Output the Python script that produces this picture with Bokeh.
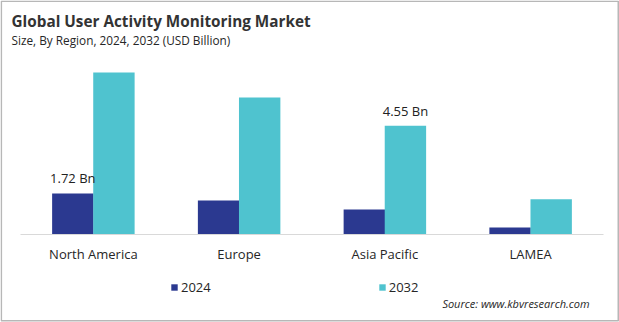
from bokeh.plotting import figure
from bokeh.models import (ColumnDataSource, Range1d, Legend, LegendItem,
                          Label, BoxAnnotation, FixedTicker)
from bokeh.transform import dodge
from bokeh.embed import file_html
from bokeh.resources import INLINE
from bokeh.core.properties import value

# ---------------- data ----------------
regions = ["North America", "Europe", "Asia Pacific", "LAMEA"]
years = ["2024", "2032"]
values_2024 = [1.72, 1.42, 1.05, 0.29]
values_2032 = [6.78, 5.73, 4.55, 1.48]
title_text = "Global User Activity Monitoring Market"
subtitle_text = "Size, By Region, 2024, 2032 (USD Billion)"
source_text = "Source: www.kbvresearch.com"
label_na_2024 = "1.72 Bn"
label_ap_2032 = "4.55 Bn"

# ---------------- layout ----------------
W, H = 619, 322
AX_L, AX_R, AX_Y = 20, 603, 234     # axis line extent / baseline in canvas px
px_per_unit = 23.9
cat_w = (AX_R - AX_L) / len(regions)

def dx(px):   # canvas px -> data x (category i centred on i)
    return (px - AX_L) / cat_w - 0.5

def dy(py):   # canvas px -> data y
    return (AX_Y - py) / px_per_unit

NAVY = "#2B3990"
CYAN = "#4FC3CF"
FONT = "Open Sans"

idx = list(range(len(regions)))
src = ColumnDataSource(dict(i=idx, region=regions, v2024=values_2024, v2032=values_2032))

p = figure(x_range=Range1d(dx(0), dx(W)), y_range=Range1d(dy(H), dy(0)),
           width=W, height=H, output_backend="svg", toolbar_location=None,
           y_axis_location=None, min_border=0)
p.outline_line_color = None
p.grid.visible = False
p.background_fill_color = "white"
p.border_fill_color = "white"

off = 0.141
bw = 0.284
r1 = p.vbar(x=dodge("i", -off), top="v2024", width=bw,
            source=src, fill_color=NAVY, line_color=None)
r2 = p.vbar(x=dodge("i", off), top="v2032", width=bw,
            source=src, fill_color=CYAN, line_color=None)

# value labels
lab1 = ColumnDataSource(dict(x=[idx[0]], y=[values_2024[0]], t=[label_na_2024]))
lab2 = ColumnDataSource(dict(x=[idx[2]], y=[values_2032[2]], t=[label_ap_2032]))
for s, o in ((lab1, -off), (lab2, off)):
    p.text(x=dodge("x", o), y="y", text="t", source=s,
           text_align="center", text_baseline="bottom", y_offset=-6,
           text_font=value(FONT), text_font_size="13px", text_color="#222222")

# x axis drawn at y = 0
ax = p.xaxis[0]
ax.fixed_location = 0
ax.bounds = (-0.5, len(regions) - 0.5)
ax.ticker = FixedTicker(ticks=idx)
ax.major_label_overrides = {i: r for i, r in zip(idx, regions)}
ax.axis_line_color = "#d9d9d9"
ax.axis_line_width = 1
ax.major_tick_line_color = None
ax.minor_tick_line_color = None
ax.major_tick_out = 0
ax.major_tick_in = 0
ax.major_label_standoff = 10
ax.major_label_text_font = FONT
ax.major_label_text_font_size = "13px"
ax.major_label_text_color = "#262626"

# titles
p.add_layout(Label(x=dx(11), y=dy(20), text=title_text, text_font=FONT,
                   text_font_size="15.3px", text_font_style="bold",
                   text_color="#333333", text_baseline="middle"))
p.add_layout(Label(x=dx(11), y=dy(39), text=subtitle_text, text_font=FONT,
                   text_font_size="11.8px", text_color="#262626",
                   text_baseline="middle"))
p.add_layout(Label(x=dx(589), y=dy(303), text=source_text, text_font=FONT,
                   text_font_size="11px", text_font_style="italic",
                   text_color="#262626", text_baseline="middle", text_align="right"))

# legend
legend = Legend(items=[LegendItem(label=years[0], renderers=[r1]),
                       LegendItem(label=years[1], renderers=[r2])],
                location=(170, 26), orientation="horizontal", spacing=167,
                glyph_width=8, glyph_height=8, label_standoff=3, padding=0,
                margin=0, border_line_alpha=0, background_fill_alpha=0,
                label_text_font=FONT, label_text_font_size="13px",
                label_text_color="#262626")
p.add_layout(legend, "center")

# outer border
p.add_layout(BoxAnnotation(left=dx(0.8), right=dx(617.8), top=dy(0.8), bottom=dy(320.3),
                           fill_alpha=0, line_color="#111111", line_width=1.6,
                           level="overlay"))

open("out.html", "w").write(file_html(p, INLINE))
